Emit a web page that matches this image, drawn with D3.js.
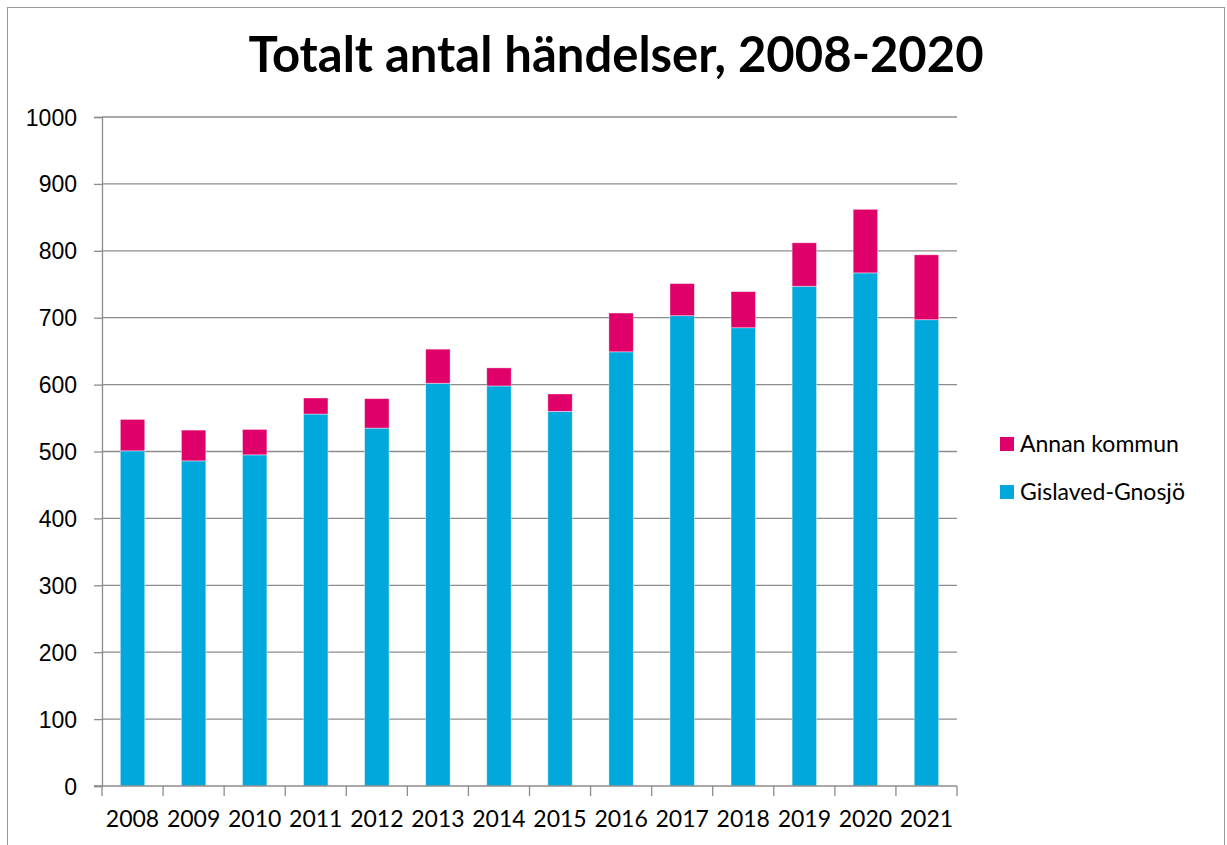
<!DOCTYPE html>
<html>
<head>
<meta charset="utf-8">
<script src="https://cdn.jsdelivr.net/npm/d3@7"></script>
<style>
  body { margin: 0; background: #fff; }
  svg { display: block; font-family: "Lato", "Open Sans", sans-serif; }
</style>
</head>
<body>
<div class="container"></div>
<script>
// values
var years = ['2008', '2009', '2010', '2011', '2012', '2013', '2014', '2015', '2016', '2017', '2018', '2019', '2020', '2021'];
var gislaved = [501, 486, 495, 556, 535, 602, 598, 560, 649, 703, 685, 747, 767, 697];
var annan = [47, 46, 38, 24, 44, 51, 27, 26, 58, 48, 54, 65, 95, 97];
var yTicks = [0, 100, 200, 300, 400, 500, 600, 700, 800, 900, 1000];
var seriesNames = ['Gislaved-Gnosjö', 'Annan kommun'];
var seriesColors = ['#00a8dc', '#e0006a'];

var width = 1227, height = 845;
var plot = { left: 102, right: 957, top: 117, bottom: 786 };

var svg = d3.select('.container').append('svg')
    .attr('width', width).attr('height', height);

// outer frame
svg.append('rect')
    .attr('x', 7.5).attr('y', 7.5)
    .attr('width', 1217).attr('height', 850)
    .attr('fill', 'none').attr('stroke', '#9a9a9a');

svg.append('text')
    .attr('x', 616).attr('y', 72)
    .attr('text-anchor', 'middle')
    .attr('font-size', 49).attr('font-weight', 'bold')
    .text('Totalt antal händelser, 2008-2020');

var x = d3.scaleBand().domain(years).range([plot.left, plot.right]).paddingInner(0.6).paddingOuter(0.3);
var xOuter = d3.scaleBand().domain(years).range([plot.left, plot.right]);
var y = d3.scaleLinear().domain([0, 1000]).range([plot.bottom, plot.top]);

// gridlines
svg.append('g').selectAll('line')
    .data(yTicks.slice(1))
    .enter().append('line')
    .attr('x1', plot.left).attr('x2', plot.right)
    .attr('y1', function (d) { return y(d); })
    .attr('y2', function (d) { return y(d); })
    .attr('stroke', '#8c8c8c').attr('stroke-width', 1.3);

// stacked bars
var rows = years.map(function (yr, i) {
    return { year: yr, g: gislaved[i], a: annan[i] };
});
var stack = d3.stack().keys(['g', 'a'])(rows);

svg.append('g').selectAll('g')
    .data(stack)
    .enter().append('g')
    .attr('fill', function (d, i) { return seriesColors[i]; })
    .selectAll('rect')
    .data(function (d) { return d; })
    .enter().append('rect')
    .attr('x', function (d) { return x(d.data.year); })
    .attr('width', x.bandwidth())
    .attr('y', function (d) { return y(d[1]); })
    .attr('height', function (d) { return y(d[0]) - y(d[1]); })
    .attr('stroke', '#ffffff').attr('stroke-opacity', 0.5).attr('stroke-width', 0.8);

// y axis
var yAxis = svg.append('g')
    .attr('transform', 'translate(' + plot.left + ',0)')
    .call(d3.axisLeft(y).tickValues(yTicks).tickFormat(d3.format('d')).tickSize(8).tickPadding(17));
yAxis.select('.domain').attr('stroke', '#8c8c8c').attr('stroke-width', 1.3);
yAxis.selectAll('line').attr('stroke', '#8c8c8c').attr('stroke-width', 1.3);
yAxis.selectAll('text').attr('font-size', 23).attr('fill', '#000').attr('dy', '0.35em');

// x axis: ticks on category boundaries
var xAxisG = svg.append('g')
    .attr('transform', 'translate(0,' + plot.bottom + ')');
xAxisG.append('line')
    .attr('x1', plot.left - 8).attr('x2', plot.right)
    .attr('stroke', '#8c8c8c').attr('stroke-width', 1.3);
xAxisG.selectAll('.tk')
    .data(years.concat(['end']))
    .enter().append('line')
    .attr('class', 'tk')
    .attr('x1', function (d, i) { return i < years.length ? xOuter(d) : plot.right; })
    .attr('x2', function (d, i) { return i < years.length ? xOuter(d) : plot.right; })
    .attr('y1', 0).attr('y2', 10)
    .attr('stroke', '#8c8c8c').attr('stroke-width', 1.3);
xAxisG.selectAll('text')
    .data(years)
    .enter().append('text')
    .attr('x', function (d) { return xOuter(d) + xOuter.bandwidth() / 2; })
    .attr('y', 41)
    .attr('text-anchor', 'middle')
    .attr('font-size', 23)
    .text(function (d) { return d; });

// legend (Annan kommun on top)
var legend = svg.append('g').selectAll('g')
    .data([1, 0])
    .enter().append('g')
    .attr('transform', function (d, i) { return 'translate(1000,' + (437 + i * 48) + ')'; });
legend.append('rect')
    .attr('width', 14).attr('height', 14)
    .attr('fill', function (d) { return seriesColors[d]; });
legend.append('text')
    .attr('x', 20).attr('y', 7).attr('dy', '0.35em')
    .attr('font-size', 23)
    .text(function (d) { return seriesNames[d]; });
</script>
</body>
</html>
